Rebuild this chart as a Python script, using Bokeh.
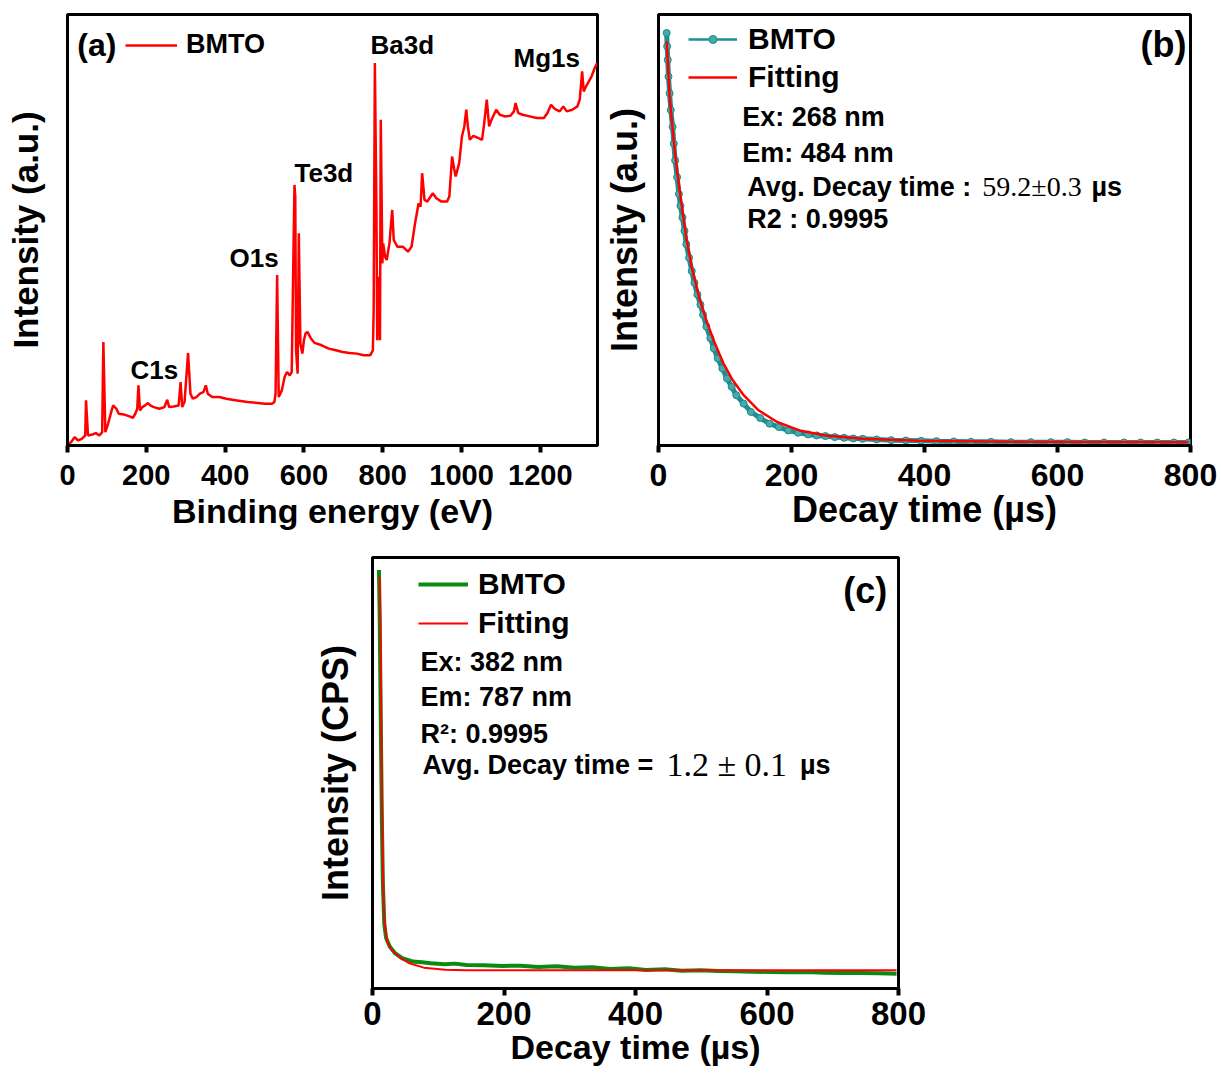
from bokeh.plotting import figure
from bokeh.models import Range1d, FixedTicker, Label, Legend, LegendItem, Spacer
from bokeh.layouts import column, row
from bokeh.embed import file_html
from bokeh.resources import INLINE

SANS = "Liberation Sans"
SERIF = "Liberation Serif"

# ---------------- data ----------------
# (a) XPS survey, binding energy (eV) vs intensity (a.u.)
energy_a = [0, 4.5, 9, 18, 27, 36, 45, 47, 52, 63,
            72, 81, 88, 91, 96, 103, 112, 116, 124, 130,
            143, 157, 166, 172, 177, 180, 184, 190, 197, 204,
            210, 219, 233, 246, 253, 258, 269, 282, 287, 291,
            297, 306, 312, 318, 327, 336, 345, 351, 356, 367,
            385, 403, 430, 457, 484, 501, 519, 525, 528, 532,
            536, 544, 551, 557, 564, 569, 573, 576, 578, 580,
            584, 587, 591, 596, 600, 604, 609, 618, 627, 645,
            663, 681, 698, 716, 734, 752, 768, 775, 777, 780,
            784, 786, 790, 793, 795, 799, 801, 806, 810, 817,
            824, 828, 837, 851, 864, 873, 882, 891, 896, 900,
            906, 913, 927, 936, 949, 963, 969, 976, 981, 985,
            994, 1001, 1007, 1012, 1016, 1021, 1030, 1043, 1052, 1057,
            1064, 1070, 1076, 1088, 1097, 1110, 1124, 1133, 1137, 1144,
            1155, 1173, 1191, 1209, 1218, 1227, 1234, 1240, 1249, 1258,
            1267, 1281, 1294, 1300, 1306, 1310, 1316, 1330, 1338, 1344]
counts_a = [0, 5, 10, 25, 15, 20, 30, 135, 30, 33,
            37, 30, 40, 310, 40, 65, 105, 120, 110, 95,
            93, 87, 83, 95, 110, 180, 105, 115, 120, 127,
            120, 115, 110, 115, 137, 115, 117, 120, 190, 115,
            130, 277, 155, 140, 145, 155, 160, 180, 155, 145,
            145, 140, 135, 130, 127, 125, 125, 130, 155, 510,
            145, 165, 205, 220, 210, 220, 545, 780, 745, 285,
            215, 635, 305, 275, 315, 335, 340, 320, 307, 300,
            290, 285, 280, 277, 275, 270, 270, 285, 405, 1145,
            705, 315, 505, 315, 975, 545, 605, 565, 555, 605,
            705, 615, 595, 595, 580, 595, 665, 725, 715, 815,
            735, 730, 755, 740, 730, 730, 745, 865, 830, 805,
            845, 925, 955, 1005, 955, 915, 927, 920, 915, 960,
            1035, 955, 975, 1005, 990, 985, 987, 1000, 1025, 995,
            990, 985, 980, 980, 995, 1020, 1010, 1005, 1000, 1015,
            1000, 1005, 1015, 1035, 1120, 1060, 1075, 1105, 1130, 1145]
peak_names = ["C1s", "O1s", "Te3d", "Ba3d", "Mg1s"]
peak_label_x = [160, 411, 576, 769, 1132]
peak_label_y = [227, 560, 817, 1200, 1161]
ticks_a = [0, 200, 400, 600, 800, 1000, 1200]

# (b) decay curve, Ex 268 nm / Em 484 nm
time_b = [12.3, 13.0, 13.9, 15.0, 16.7, 18.5, 21.2, 23.0, 25.0, 28.0,
          30.7, 33.0, 36.0, 39.0, 41.8, 46.0, 50.0, 54.0, 58.5, 63.0,
          67, 72, 78, 83, 89, 96, 103, 110, 117, 128,
          139, 153, 167, 181, 195, 210, 225, 238, 251, 265,
          279, 293, 307, 328, 350, 372, 395, 418, 444, 470,
          500, 530, 560, 590, 615, 641, 670, 700, 725, 750,
          775, 797]
inten_b = [1230, 1190, 1150, 1100, 1050, 1000, 950, 900, 850, 800,
           750, 715, 680, 640, 600, 560, 520, 485, 450, 420,
           390, 355, 320, 290, 260, 230, 200, 175, 150, 125,
           100, 82, 65, 55, 45, 38, 33, 30, 28, 25,
           23, 21, 20, 18, 16, 15, 14, 13, 12, 11,
           11, 10, 10, 10, 10, 9, 9, 9, 9, 9,
           9, 9]
time_bfit = [12.3, 16.7, 22.3, 27.9, 34.6, 41.8, 50.2, 61.3, 72.5, 83.6,
             97.6, 111.5, 128, 150.5, 178.4, 212, 251, 307, 390, 530, 797]
inten_bfit = [1205, 1040, 920, 820, 720, 620, 530, 440, 370, 310,
              245, 195, 150, 105, 70, 45, 30, 20, 14, 11, 10]
ticks_bc = [0, 200, 400, 600, 800]

# (c) decay curve, Ex 382 nm / Em 787 nm
time_c = [9.8, 10.9, 12.5, 14.2, 15.8, 18, 20.7, 26.2, 34.3, 45.2,
          61.6, 75, 88.8, 110, 125, 143, 170, 198, 225, 252,
          280, 307, 335, 361, 390, 416, 445, 470, 500, 525,
          550, 579, 605, 634, 660, 688, 715, 743, 770, 797]
inten_c = [1245, 1110, 810, 510, 310, 190, 150, 125, 105, 90,
           80, 78, 75, 72, 74, 70, 69, 67, 68, 64,
           66, 62, 63, 58, 60, 55, 57, 53, 54, 52,
           51, 50, 49, 48, 49, 47, 46, 46, 45, 44]
time_cfit = [10.9, 12.5, 14.2, 15.8, 18, 22.3, 28.9, 39.8, 56.1, 78, 110.6, 143, 307, 797]
inten_cfit = [1225, 1010, 610, 360, 200, 140, 115, 95, 75, 62, 56, 54, 54, 54]


def make_fig(fw, fh, bl, br, bt, bb, xr, yr, xticks, tick_size, tick_standoff,
             xlabel, xlabel_size, xlabel_standoff, ylabel, ylabel_size, ylabel_standoff):
    p = figure(frame_width=fw, frame_height=fh,
               min_border_left=bl, min_border_right=br,
               min_border_top=bt, min_border_bottom=bb,
               x_range=Range1d(*xr), y_range=Range1d(*yr),
               output_backend="svg", toolbar_location=None, tools="")
    p.background_fill_color = "white"
    p.border_fill_color = "white"
    p.outline_line_color = "black"
    p.outline_line_width = 3
    p.outline_line_alpha = 1
    p.grid.visible = False
    xa = p.xaxis[0]
    xa.ticker = FixedTicker(ticks=xticks)
    xa.major_tick_out = 7
    xa.major_tick_in = 0
    xa.major_tick_line_width = 4
    xa.major_tick_line_color = "black"
    xa.minor_tick_line_color = None
    xa.axis_line_width = 3
    xa.axis_line_color = "black"
    xa.major_label_text_font = SANS
    xa.major_label_text_font_style = "bold"
    xa.major_label_text_font_size = f"{tick_size}px"
    xa.major_label_text_color = "black"
    xa.major_label_standoff = tick_standoff
    xa.axis_label = xlabel
    xa.axis_label_text_font = SANS
    xa.axis_label_text_font_style = "bold"
    xa.axis_label_text_font_size = f"{xlabel_size}px"
    xa.axis_label_text_color = "black"
    xa.axis_label_standoff = xlabel_standoff
    ya = p.yaxis[0]
    ya.ticker = FixedTicker(ticks=[])
    ya.major_tick_out = 0
    ya.major_tick_in = 0
    ya.minor_tick_out = 0
    ya.minor_tick_in = 0
    ya.major_label_standoff = 0
    ya.axis_line_width = 3
    ya.axis_line_color = "black"
    ya.axis_label = ylabel
    ya.axis_label_text_font = SANS
    ya.axis_label_text_font_style = "bold"
    ya.axis_label_text_font_size = f"{ylabel_size}px"
    ya.axis_label_text_color = "black"
    ya.axis_label_standoff = ylabel_standoff
    return p


def lab(p, x, y, text, size, font=SANS, style="bold", align="left"):
    p.add_layout(Label(x=x, y=y, text=text, text_font=font,
                       text_font_size=f"{size}px", text_font_style=style,
                       text_align=align, text_baseline="middle", text_color="black"))


def legend(p, items, loc, size, glyph_w, standoff, spacing):
    lg = Legend(items=items, location=loc, orientation="vertical",
                label_text_font=SANS, label_text_font_style="bold",
                label_text_font_size=f"{size}px", label_text_color="black",
                glyph_width=glyph_w, glyph_height=20, label_height=20,
                label_standoff=standoff, spacing=spacing, padding=0, margin=0,
                border_line_color=None, background_fill_alpha=0)
    p.add_layout(lg)


# ---------------- (a) ----------------
pa = make_fig(530, 431, 67, 3, 14, 93, (0, 1345), (0, 1290), ticks_a, 29, 12,
              "Binding energy (eV)", 34, 4, "Intensity (a.u.)", 35, 23)
ra = pa.line(energy_a, counts_a, line_color="#ff0000", line_width=2.5)
legend(pa, [LegendItem(label="BMTO", renderers=[ra])], (58, 385), 27, 52, 9, 0)
lab(pa, 25, 1200, "(a)", 32)
for name, lx, ly in zip(peak_names, peak_label_x, peak_label_y):
    lab(pa, lx, ly, name, 26)

# ---------------- (b) ----------------
pb = make_fig(532, 431, 58, 29, 14, 93, (0, 800), (0, 1285), ticks_bc, 32, 11,
              "Decay time (µs)", 36, 0, "Intensity (a.u.)", 36, 14)
rb_thin = pb.line(time_b, inten_b, line_color="#1c9090", line_width=2.5)
rb_line = pb.line(time_b, inten_b, line_color="#1c9090", line_width=5)
rb_pts = pb.scatter(time_b, inten_b, marker="circle", size=7,
                    fill_color="#45aaaa", line_color="#1c8a8a", line_width=1)
rb_fit = pb.line(time_bfit, inten_bfit, line_color="#ff0000", line_width=2.5)
legend(pb, [LegendItem(label="BMTO", renderers=[rb_thin, rb_pts]),
            LegendItem(label="Fitting", renderers=[rb_fit])],
       (30, 351), 30, 49, 11, 4)
lab(pb, 794, 1195, "(b)", 36, align="right")
lab(pb, 126, 978, "Ex: 268 nm", 27)
lab(pb, 126, 873, "Em: 484 nm", 27)
lab(pb, 133.5, 772, "Avg. Decay time :", 27)
lab(pb, 487, 772, "59.2\u00b10.3", 28, font=SERIF, style="normal")
lab(pb, 651, 772, "µs", 27)
lab(pb, 133.5, 674, "R2 : 0.9995", 27)

# ---------------- (c) ----------------
pc = make_fig(526, 431, 72, 30, 19, 85, (0, 800), (0, 1282), ticks_bc, 33, 6,
              "Decay time (µs)", 34, 0, "Intensity (CPS)", 36, 17)
rc = pc.line(time_c, inten_c, line_color="#0b8a12", line_width=4)
rc_fit = pc.line(time_cfit, inten_cfit, line_color="#ff0000", line_width=2)
legend(pc, [LegendItem(label="BMTO", renderers=[rc]),
            LegendItem(label="Fitting", renderers=[rc_fit])],
       (46, 348), 30, 50, 10, 5)
lab(pc, 783, 1184, "(c)", 36, align="right")
lab(pc, 73, 972, "Ex: 382 nm", 27)
lab(pc, 73, 868, "Em: 787 nm", 27)
lab(pc, 73, 758, "R\u00b2: 0.9995", 27)
lab(pc, 76, 666, "Avg. Decay time =", 27)
lab(pc, 447, 666, "1.2 \u00b1 0.1", 34, font=SERIF, style="normal")
lab(pc, 650, 666, "µs", 27)

layout = column(row(pa, pb), row(Spacer(width=300, height=10), pc))

with open("out.html", "w") as f:
    f.write(file_html(layout, INLINE))
